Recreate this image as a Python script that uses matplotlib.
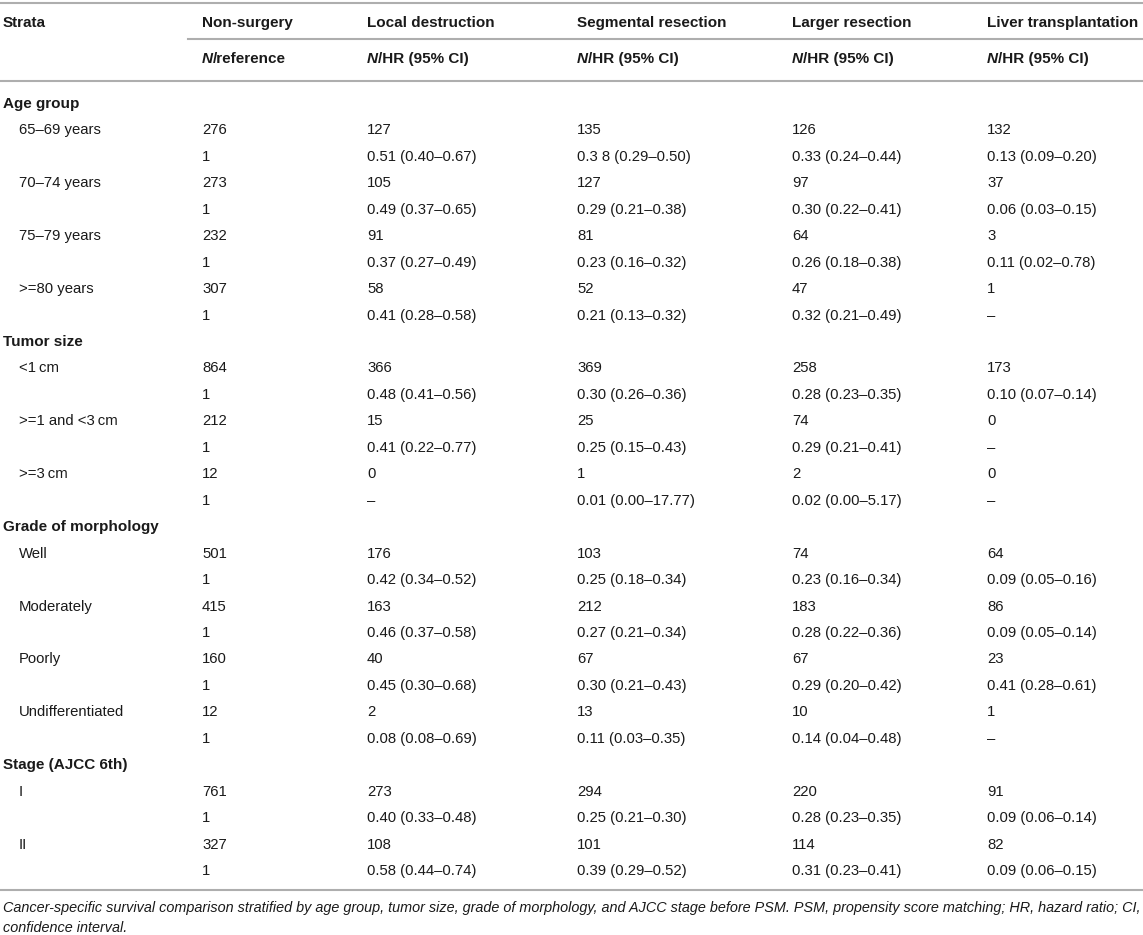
import matplotlib
matplotlib.use('Agg')
import matplotlib.pyplot as plt

plt.rcParams['font.family'] = ['Liberation Sans', 'DejaVu Sans']

# table content
sections = ['Age group', 'Tumor size', 'Grade of morphology', 'Stage (AJCC 6th)']
subgroups = [
    ['65\u201369 years', '70\u201374 years', '75\u201379 years', '>=80 years'],
    ['<1\u2009cm', '>=1 and <3\u2009cm', '>=3\u2009cm'],
    ['Well', 'Moderately', 'Poorly', 'Undifferentiated'],
    ['I', 'II'],
]
columns = ['Non-surgery', 'Local destruction', 'Segmental resection',
           'Larger resection', 'Liver transplantation']
sub_headers = ['/reference', '/HR (95% CI)', '/HR (95% CI)', '/HR (95% CI)', '/HR (95% CI)']

n_nonsurgery = [276, 273, 232, 307, 864, 212, 12, 501, 415, 160, 12, 761, 327]
hr_nonsurgery = ['1'] * 13

n_local = [127, 105, 91, 58, 366, 15, 0, 176, 163, 40, 2, 273, 108]
hr_local = ['0.51 (0.40\u20130.67)', '0.49 (0.37\u20130.65)', '0.37 (0.27\u20130.49)',
            '0.41 (0.28\u20130.58)', '0.48 (0.41\u20130.56)', '0.41 (0.22\u20130.77)', '\u2013',
            '0.42 (0.34\u20130.52)', '0.46 (0.37\u20130.58)', '0.45 (0.30\u20130.68)',
            '0.08 (0.08\u20130.69)', '0.40 (0.33\u20130.48)', '0.58 (0.44\u20130.74)']

n_segmental = [135, 127, 81, 52, 369, 25, 1, 103, 212, 67, 13, 294, 101]
hr_segmental = ['0.3 8 (0.29\u20130.50)', '0.29 (0.21\u20130.38)', '0.23 (0.16\u20130.32)',
                '0.21 (0.13\u20130.32)', '0.30 (0.26\u20130.36)', '0.25 (0.15\u20130.43)',
                '0.01 (0.00\u201317.77)', '0.25 (0.18\u20130.34)', '0.27 (0.21\u20130.34)',
                '0.30 (0.21\u20130.43)', '0.11 (0.03\u20130.35)', '0.25 (0.21\u20130.30)',
                '0.39 (0.29\u20130.52)']

n_larger = [126, 97, 64, 47, 258, 74, 2, 74, 183, 67, 10, 220, 114]
hr_larger = ['0.33 (0.24\u20130.44)', '0.30 (0.22\u20130.41)', '0.26 (0.18\u20130.38)',
             '0.32 (0.21\u20130.49)', '0.28 (0.23\u20130.35)', '0.29 (0.21\u20130.41)',
             '0.02 (0.00\u20135.17)', '0.23 (0.16\u20130.34)', '0.28 (0.22\u20130.36)',
             '0.29 (0.20\u20130.42)', '0.14 (0.04\u20130.48)', '0.28 (0.23\u20130.35)',
             '0.31 (0.23\u20130.41)']

n_liver = [132, 37, 3, 1, 173, 0, 0, 64, 86, 23, 1, 91, 82]
hr_liver = ['0.13 (0.09\u20130.20)', '0.06 (0.03\u20130.15)', '0.11 (0.02\u20130.78)', '\u2013',
            '0.10 (0.07\u20130.14)', '\u2013', '\u2013', '0.09 (0.05\u20130.16)',
            '0.09 (0.05\u20130.14)', '0.41 (0.28\u20130.61)', '\u2013', '0.09 (0.06\u20130.14)',
            '0.09 (0.06\u20130.15)']

caption_line1 = ('Cancer-specific survival comparison stratified by age group, tumor size, grade of '
                 'morphology, and AJCC stage before PSM. PSM, propensity score matching; HR, hazard '
                 'ratio; CI,')
caption_line2 = 'confidence interval.'

# layout (pixels)
W, H = 1143, 935
col_x = [3, 202, 367, 577, 792, 987]
sub_x = 19
fs_bold = 11
fs = 10.75
txt = '#1a1a1a'
line_c = '#aeaeae'
row0 = 104
pitch = 26.45

fig = plt.figure(figsize=(W / 100, H / 100), dpi=100)
ax = fig.add_axes([0, 0, 1, 1])
ax.set_xlim(0, W)
ax.set_ylim(H, 0)
ax.axis('off')

# header
ax.axhline(3, color=line_c, lw=1.5)
ax.plot([188, W], [39, 39], color=line_c, lw=1.5)
ax.axhline(81, color=line_c, lw=1.5)
ax.text(col_x[0], 23, 'Strata', fontsize=fs_bold, weight='bold', va='center', color=txt)
fig.canvas.draw()
renderer = fig.canvas.get_renderer()
inv = ax.transData.inverted()
for i, name in enumerate(columns):
    ax.text(col_x[i + 1], 23, name, fontsize=fs_bold, weight='bold', va='center', color=txt)
    t = ax.text(col_x[i + 1], 59, 'N', fontsize=fs_bold, weight='bold', style='italic',
                va='center', color=txt)
    bb = t.get_window_extent(renderer)
    x_end = inv.transform((bb.x1, bb.y0))[0]
    ax.text(x_end, 59, sub_headers[i], fontsize=fs_bold, weight='bold', va='center', color=txt)

n_cols = [n_nonsurgery, n_local, n_segmental, n_larger, n_liver]
hr_cols = [hr_nonsurgery, hr_local, hr_segmental, hr_larger, hr_liver]

row = 0
k = 0
for s, name in enumerate(sections):
    y = row0 + row * pitch
    ax.text(col_x[0], y, name, fontsize=fs_bold, weight='bold', va='center', color=txt)
    row += 1
    for label in subgroups[s]:
        y1 = row0 + row * pitch
        y2 = row0 + (row + 1) * pitch
        ax.text(sub_x, y1, label, fontsize=fs, va='center', color=txt)
        for c in range(5):
            ax.text(col_x[c + 1], y1, str(n_cols[c][k]), fontsize=fs, va='center', color=txt)
            ax.text(col_x[c + 1], y2, hr_cols[c][k], fontsize=fs, va='center', color=txt)
        row += 2
        k += 1

ax.axhline(890, color=line_c, lw=1.5)

# caption: size the first line so it spans the table width
cap_left, cap_right = 3, 1136
t = ax.text(0, 0, caption_line1, fontsize=fs, style='italic')
full_w = t.get_window_extent(renderer).width
t.remove()
fs_cap = fs * (cap_right - cap_left) / full_w
ax.text(cap_left, 908, caption_line1, fontsize=fs_cap, style='italic', va='center', color=txt)
ax.text(cap_left, 928, caption_line2, fontsize=fs_cap, style='italic', va='center', color=txt)

fig.savefig('out.png', dpi=100)
